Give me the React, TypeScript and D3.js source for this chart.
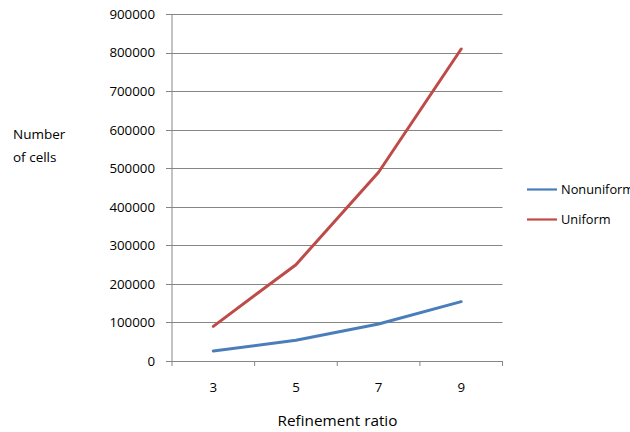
import React from "react";
import * as d3 from "d3";

const categories = ["3", "5", "7", "9"];
const nonuniform = [26000, 54000, 96000, 154000];
const uniform = [90000, 250000, 490000, 810000];
const yTicks = [0, 100000, 200000, 300000, 400000, 500000, 600000, 700000, 800000, 900000];
const seriesNames = ["Nonuniform", "Uniform"];
const seriesColors = ["#4A7EBB", "#BE4B48"];

const W = 630;
const H = 432;
const left = 172;
const right = 502.5;
const top = 14.3;
const bottom = 361;
const font = "'Open Sans', 'Noto Sans', sans-serif";

export default function App() {
  const x = d3.scaleBand<string>().domain(categories).range([left, right]).padding(0);
  const y = d3.scaleLinear().domain([0, 900000]).range([bottom, top]);
  const cx = (c: string) => (x(c) as number) + x.bandwidth() / 2;
  const line = d3
    .line<number>()
    .x((_, i) => cx(categories[i]))
    .y((d) => y(d));
  const series = [nonuniform, uniform];
  const boundaries = [...categories.map((c) => x(c) as number), right];

  return (
    <svg
      width={W}
      height={H}
      style={{ position: "absolute", left: 0, top: 0, background: "#fff" }}
      fontFamily={font}
    >
      <rect x={0} y={0} width={W} height={H} fill="#fff" />
      {yTicks.map((t) => (
        <g key={t}>
          <line
            x1={left - 6}
            x2={right}
            y1={Math.round(y(t)) + 0.5}
            y2={Math.round(y(t)) + 0.5}
            stroke="#868686"
            strokeWidth={1}
          />
          <text x={155} y={y(t)} dy="0.35em" textAnchor="end" fontSize={13.3} fill="#000">
            {t}
          </text>
        </g>
      ))}
      <line x1={left} x2={left} y1={top} y2={bottom} stroke="#868686" strokeWidth={1} />
      {boundaries.map((b, i) => (
        <line key={i} x1={b} x2={b} y1={bottom} y2={bottom + 5} stroke="#868686" strokeWidth={1} />
      ))}
      {categories.map((c) => (
        <text key={c} x={cx(c)} y={387} dy="0.35em" textAnchor="middle" fontSize={13.3} fill="#000">
          {c}
        </text>
      ))}
      <text x={337.5} y={421} dy="0.35em" textAnchor="middle" fontSize={15.3} fill="#000">
        Refinement ratio
      </text>
      <text x={13} y={134} dy="0.35em" fontSize={13.5} fill="#000">
        Number
      </text>
      <text x={13} y={157} dy="0.35em" fontSize={13.5} fill="#000">
        of cells
      </text>
      {series.map((s, i) => (
        <path
          key={seriesNames[i]}
          d={line(s) as string}
          fill="none"
          stroke={seriesColors[i]}
          strokeWidth={3}
          strokeLinejoin="round"
          strokeLinecap="round"
        />
      ))}
      {seriesNames.map((n, i) => (
        <g key={n}>
          <line
            x1={527}
            x2={557}
            y1={189.5 + i * 30}
            y2={189.5 + i * 30}
            stroke={seriesColors[i]}
            strokeWidth={2.2}
          />
          <text x={561} y={189.5 + i * 30} dy="0.35em" fontSize={12.8} fill="#000">
            {n}
          </text>
        </g>
      ))}
    </svg>
  );
}
